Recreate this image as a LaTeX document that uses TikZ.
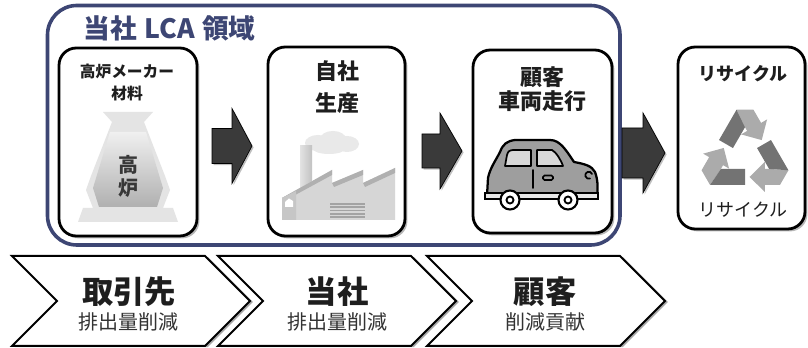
\documentclass[tikz,border=0pt]{standalone}
\usepackage{fontspec}
\newfontfamily\jpfont{Noto Sans CJK JP}
\usetikzlibrary{shadows,calc}
\definecolor{navy}{HTML}{3D4674}
\definecolor{arrowgray}{HTML}{3A3A3A}
\definecolor{carbody}{HTML}{9E9E9E}
\definecolor{carglass}{HTML}{D8D8D8}
\definecolor{recdark}{HTML}{737373}
\definecolor{reclight}{HTML}{ABABAB}
\definecolor{furnlight}{HTML}{E4E4E4}
\definecolor{inktext}{HTML}{1E1E1E}
\begin{document}
\begin{tikzpicture}[x=0.75pt,y=-0.75pt,
  stagebox/.style={draw=black, line width=2.1pt, rounded corners=13pt, fill=white,
    inner sep=0pt, outer sep=0pt,
    drop shadow={shadow xshift=1.8pt, shadow yshift=-1.8pt, fill=black, opacity=0.28}},
  chevbox/.style={draw=black, line width=1.5pt, fill=white, line join=miter,
    drop shadow={shadow xshift=2.2pt, shadow yshift=-0.8pt, fill=black, opacity=0.35}},
  flowarrowstyle/.style={fill=arrowgray, draw=black, line width=0.5pt,
    drop shadow={shadow xshift=1.2pt, shadow yshift=-1.2pt, fill=black, opacity=0.25}},
  boxtitle/.style={font=\jpfont\bfseries\fontsize{16.5}{21}\selectfont, align=center, text=inktext},
  chevtitle/.style={font=\jpfont\bfseries\fontsize{23.5}{26}\selectfont, text=inktext},
  chevsub/.style={font=\jpfont\fontsize{15}{18}\selectfont, text=black!80},
  pics/flowarrow/.style args={#1/#2/#3/#4}{code={
    \draw[flowarrowstyle] (0,-#3) -- (#1,-#3) -- (#1,-#4) -- (#2,0) -- (#1,#4) -- (#1,#3) -- (0,#3) -- cycle;}}
]
\useasboundingbox (0,0) rectangle (808,348);

% --- the company LCA frame ---
\draw[navy, line width=2.7pt, rounded corners=22pt] (47.5,5.5) rectangle (620,245);
\node[font=\jpfont\bfseries\fontsize{20}{22}\selectfont, text=navy, anchor=west] (lcatitle) at (79,28)
  {当社\hspace{0.28em}LCA\hspace{0.28em}領域};

% --- stage boxes ---
\node[stagebox, minimum width=103.5pt, minimum height=141pt] (b1) at (128,142) {};
\node[stagebox, minimum width=102.75pt, minimum height=141.75pt] (b2) at (336.5,141.5) {};
\node[stagebox, minimum width=104.25pt, minimum height=137.25pt] (b3) at (542.5,141.5) {};
\node[stagebox, minimum width=95.25pt, minimum height=136.5pt] (b4) at (741.5,138) {};

\node[boxtitle, font=\jpfont\bfseries\fontsize{11.8}{15.8}\selectfont] (t1) at (127,82.5) {高炉メーカー\\材料};
\node[boxtitle] (t2) at (337,87) {自社\\[0.15em]生産};
\node[boxtitle, font=\jpfont\bfseries\fontsize{16.5}{18}\selectfont] (t3) at (542,89) {顧客\\車両走行};
\node[boxtitle, font=\jpfont\bfseries\fontsize{13.5}{16}\selectfont] (t4) at (743,74) {リサイクル};
\node[font=\jpfont\fontsize{13.5}{16}\selectfont, text=inktext] (t4b) at (743,210) {リサイクル};

% --- flow arrows between the stages ---
\pic at (212,146) {flowarrow=20/40/17.5/37.5};
\pic at (422,151) {flowarrow=18/40/17/38};
\pic at (622,153) {flowarrow=21/43/25/40};

% --- blast furnace ---
\fill[furnlight] (103,112) -- (153,112) -- (144,122) -- (165,176) -- (170,190) -- (163,208)
  -- (173,208) -- (178,222) -- (78,222) -- (83,208) -- (93,208) -- (86,190) -- (91,176)
  -- (112,122) -- cycle;
\shade[top color=gray!12, bottom color=gray!62] (110,132) -- (146,132) -- (163,188) -- (157,207)
  -- (99,207) -- (93,188) -- cycle;
\node[font=\jpfont\bfseries\fontsize{15}{17}\selectfont, text=black!78] (furnA) at (128,165) {高};
\node[font=\jpfont\bfseries\fontsize{15}{17}\selectfont, text=black!78] (furnB) at (128,188) {炉};

% --- factory ---
\fill[gray!17] (318,143) ellipse (13 and 8) (333,139) ellipse (13 and 8)
  (347,144) ellipse (12 and 8) (329,148) ellipse (17 and 6);
\shade[left color=gray!22, right color=gray!48] (300,146) rectangle (312,200);
\fill[gray!32] (282,198) -- (332,170) -- (332,183) -- (363,170) -- (363,183) -- (395,168)
  -- (395,220) -- (282,220) -- cycle;
\fill[gray!62] (282,198) -- (332,170) -- (332,175) -- (286,200) -- cycle;
\fill[gray!62] (332,183) -- (363,170) -- (363,175) -- (334,187) -- cycle;
\fill[gray!62] (363,183) -- (395,168) -- (395,173) -- (365,187) -- cycle;
\fill[gray!45] (282,198) -- (296,191) -- (296,220) -- (282,220) -- cycle;
\fill[white] (285,202) -- (289,198.5) -- (293,201) -- (293,207) -- (285,207) -- cycle;
\foreach \yy in {203,206.3,209.6,212.9,216.2}
  \fill[gray!72] (330,\yy) rectangle (365,\yy+1.7);

% --- car ---
\draw[fill=carbody, line width=1.7pt, line join=round]
  (487,196) -- (488,178) .. controls (490,168) and (496,160) .. (500,152)
  .. controls (503,144) and (507,141) .. (515,140) -- (550,140)
  .. controls (560,140) and (566,150) .. (574,162)
  .. controls (585,164) and (592,166) .. (595,172)
  .. controls (598,180) and (598,188) .. (597,196) -- cycle;
\draw[fill=carglass, line width=1.3pt, line join=round]
  (505,166) -- (507,155) .. controls (508,151) and (510,150) .. (514,150) -- (531,150) -- (531,166) -- cycle;
\draw[fill=carglass, line width=1.3pt, line join=round]
  (537,150) -- (552,150) .. controls (556,152) and (561,160) .. (563,166) -- (537,166) -- cycle;
\draw[fill=gray!18, line width=1.3pt] (485,193) rectangle (598,199);
\draw[line width=1.4pt, line cap=round] (533,170) -- (533,188);
\draw[line width=1.2pt, rounded corners=1.2pt] (543,175.5) rectangle (553,180);
\draw[line width=1.3pt, line cap=round] (590,178.5) arc[start angle=70, end angle=340, x radius=3.5, y radius=3.5];
\draw[fill=white, line width=1.6pt] (510,200) circle (9.5);
\draw[line width=1.4pt] (510,200) circle (3.5);
\draw[fill=white, line width=1.6pt] (568,200) circle (9.5);
\draw[line width=1.4pt] (568,200) circle (3.5);

% --- recycling symbol: three folded arrows ---
\begin{scope}[shift={(745,155)}, scale=1.07]
  \foreach \a in {0,120,240} {
    \begin{scope}[rotate=\a]
      \fill[reclight] (-7.92,-42.29) -- (7.92,-42.29) -- (15.02,-29.99) -- (20.64,-33.24)
        -- (15.62,-13.94) -- (-3.6,-19.24) -- (2.02,-22.49) -- (0,-26) -- cycle;
      \fill[recdark] (-24.26,-14.0) -- (-7.92,-42.29) -- (0,-26) -- (-11.26,-6.5) -- cycle;
    \end{scope}
  }
\end{scope}

% --- emission stages ---
\draw[chevbox] (12,256) -- (205,256) -- (250,301) -- (205,346) -- (12,346) -- (57,301) -- cycle;
\draw[chevbox] (218,256) -- (411,256) -- (456,301) -- (411,346) -- (218,346) -- (263,301) -- cycle;
\draw[chevbox] (427,256) -- (620,256) -- (665,301) -- (620,346) -- (427,346) -- (472,301) -- cycle;

\node[chevtitle] (c1) at (129,292) {取引先};
\node[chevsub] (c1s) at (129,322) {排出量削減};
\node[chevtitle] (c2) at (337,292) {当社};
\node[chevsub] (c2s) at (337,322) {排出量削減};
\node[chevtitle] (c3) at (545,292) {顧客};
\node[chevsub] (c3s) at (545,322) {削減貢献};
\end{tikzpicture}
\end{document}
